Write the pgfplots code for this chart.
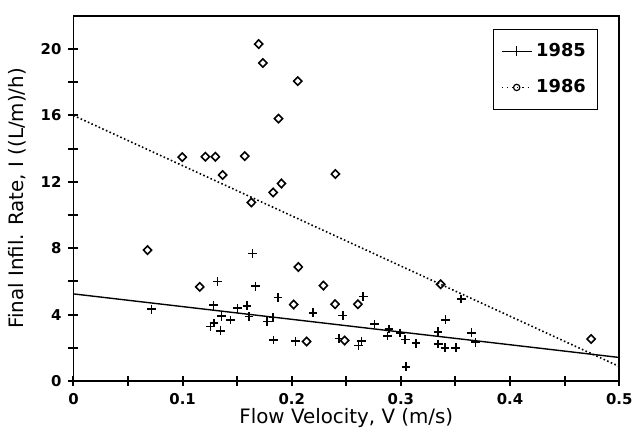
\documentclass[border=0pt]{standalone}
\usepackage{pgfplots}
\pgfplotsset{compat=1.18}
\usepackage{fontspec}
\setmainfont{DejaVu Sans}

\pgfplotstableread{
x y
0.0715 4.33
0.1255 3.29
0.1288 3.49
0.1285 4.57
0.1318 5.99
0.1348 3.03
0.1358 3.91
0.1439 3.67
0.1503 4.39
0.1590 4.53
0.1609 3.89
0.1639 7.68
0.1667 5.71
0.1776 3.59
0.1830 3.83
0.1833 2.47
0.1873 5.03
0.2033 2.40
0.2194 4.11
0.2433 2.56
0.2467 3.95
0.2610 2.15
0.2640 2.40
0.2655 5.09
0.2758 3.43
0.2879 2.71
0.2890 3.13
0.2994 2.89
0.3040 2.50
0.3048 0.86
0.3139 2.28
0.3339 2.97
0.3342 2.23
0.3403 2.00
0.3409 3.69
0.3503 2.00
0.3552 4.95
0.3648 2.91
0.3682 2.34
}\dataA

\pgfplotstableread{
x y
0.0679 7.89
0.0997 13.49
0.1157 5.67
0.1209 13.51
0.1300 13.51
0.1367 12.41
0.1570 13.55
0.1630 10.76
0.1697 20.30
0.1736 19.16
0.1830 11.36
0.1879 15.81
0.1906 11.90
0.2018 4.61
0.2055 18.07
0.2060 6.87
0.2136 2.38
0.2290 5.75
0.2397 4.63
0.2400 12.47
0.2485 2.44
0.2606 4.63
0.3364 5.83
0.4743 2.53
}\dataB

\begin{document}
\begin{tikzpicture}
\begin{axis}[name=ax, scale only axis, width=275pt, height=184pt,
  clip=false,
  xmin=0, xmax=0.5, ymin=0, ymax=22,
  xtick={0,0.1,0.2,0.3,0.4,0.5},
  xticklabels={0,0.1,0.2,0.3,0.4,0.5},
  ytick={0,4,8,12,16,20},
  yticklabels={0,4,8,12,16,20},
  tick pos=left, tick align=center,
  major tick length=0pt,
  axis line style={line width=0.9pt},
  ticklabel style={font=\fontsize{7.5}{9}\selectfont\bfseries},
  xticklabel style={yshift=-2.5pt},
  yticklabel style={xshift=-2.5pt},
  xlabel={Flow Velocity, V (m/s)},
  ylabel={Final Infil. Rate, I ((L/m)/h)},
  label style={font=\fontsize{13}{15}\selectfont},
  every axis x label/.style={at={(axis description cs:0.5,0)}, yshift=-18.5pt, anchor=center},
  every axis y label/.style={at={(axis description cs:0,0.5)}, xshift=-28.5pt, rotate=90, anchor=center},
  legend style={at={(1,1)}, anchor=north east, xshift=-10.5pt, yshift=-6.5pt,
    draw=black, line width=0.6pt, font=\fontsize{9}{11}\selectfont\bfseries,
    inner xsep=4pt, inner ysep=5pt, row sep=6pt, cells={anchor=west}},
  legend image code/.code={\draw[mark repeat=2,mark phase=2] plot coordinates {(0pt,0pt)(7.5pt,0pt)(15pt,0pt)};},
]
\addlegendimage{black, line width=0.6pt, mark=+, mark size=2.5pt}
\addlegendentry{1985}
\addlegendimage{black, dotted, line width=0.6pt, mark=o, mark size=1.6pt, mark options={solid}}
\addlegendentry{1986}

\addplot[black, only marks, mark=+, mark size=2.2pt, line width=0.8pt, forget plot] table[x=x,y=y] {\dataA};
\addplot[black, only marks, mark=diamond, mark size=2.1pt, line width=0.8pt, mark options={xscale=1.3}, forget plot] table[x=x,y=y] {\dataB};
\addplot[black, line width=0.7pt, forget plot] coordinates {(0,5.25) (0.5,1.42)};
\addplot[black, line width=0.8pt, dash pattern=on 0.8pt off 1.2pt, forget plot] coordinates {(0,16.0) (0.5,0.88)};
\pgfplotsinvokeforeach{0,0.05,0.1,0.15,0.2,0.25,0.3,0.35,0.4,0.45,0.5}{
  \draw[black, line width=1pt] (axis cs:#1,0) ++(0pt,-2.5pt) -- ++(0pt,5pt);
}
\pgfplotsinvokeforeach{0,2,4,6,8,10,12,14,16,18,20}{
  \draw[black, line width=1pt] (axis cs:0,#1) ++(-2.5pt,0pt) -- ++(5pt,0pt);
}
\end{axis}
\path ([shift={(-37pt,-28pt)}]ax.south west) rectangle ([shift={(7.5pt,8pt)}]ax.north east);
\end{tikzpicture}
\end{document}
